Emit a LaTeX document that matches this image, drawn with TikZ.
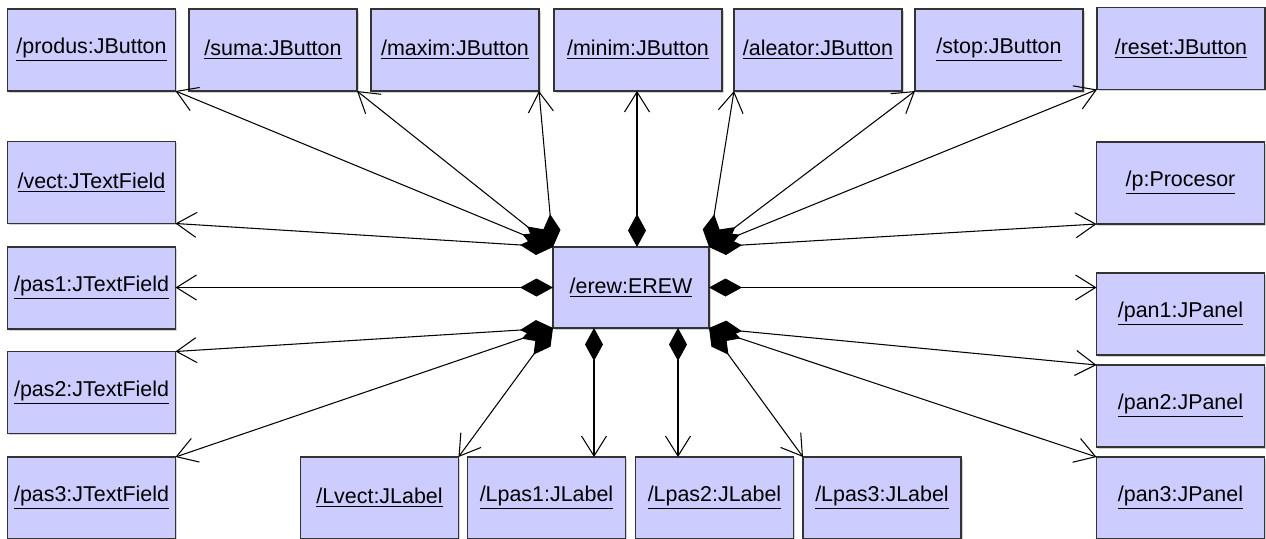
\documentclass[tikz,border=0pt]{standalone}
\usepackage{fontspec}
\setmainfont{Liberation Sans}
\usepackage{xcolor}
\usepackage{tikz}
\usetikzlibrary{arrows.meta,shadows}
\definecolor{objfill}{RGB}{204,204,255}

\begin{document}
\begin{tikzpicture}[font=\fontsize{12.2}{14}\selectfont,
  obj/.style={draw=black!80, line width=0.9pt, fill=objfill, inner sep=0pt, outer sep=0pt,
    minimum width=3.36cm, minimum height=1.64cm,
    drop shadow={shadow xshift=0.9pt, shadow yshift=-0.9pt, fill=black!35}},
  lbl/.style={obj, minimum width=3.16cm},
  assoc/.style={line width=0.6pt, {Diamond[length=6.6mm,width=3.6mm]}-{Straight Barb[length=4mm,width=5mm]}}]
\useasboundingbox (0,0) rectangle (25.32,-10.76);
% top row
\node[obj] (produs) at (1.83,-1.0) {\underline{/produs:JButton}};
\node[obj] (suma) at (5.46,-1.0) {\underline{/suma:JButton}};
\node[obj] (maxim) at (9.10,-1.0) {\underline{/maxim:JButton}};
\node[obj] (minim) at (12.76,-1.0) {\underline{/minim:JButton}};
\node[obj] (aleator) at (16.36,-1.0) {\underline{/aleator:JButton}};
\node[obj] (stop) at (19.98,-1.0) {\underline{/stop:JButton}};
\node[obj] (reset) at (23.62,-0.97) {\underline{/reset:JButton}};
% left column
\node[obj] (vect) at (1.83,-3.65) {\underline{/vect:JTextField}};
\node[obj] (pas1) at (1.83,-5.76) {\underline{/pas1:JTextField}};
\node[obj] (pas2) at (1.83,-7.85) {\underline{/pas2:JTextField}};
\node[obj] (pas3) at (1.83,-9.96) {\underline{/pas3:JTextField}};
% right column
\node[obj] (p) at (23.61,-3.66) {\underline{/p:Procesor}};
\node[obj] (pan1) at (23.61,-6.28) {\underline{/pan1:JPanel}};
\node[obj] (pan2) at (23.61,-8.12) {\underline{/pan2:JPanel}};
\node[obj] (pan3) at (23.61,-9.96) {\underline{/pan3:JPanel}};
% bottom row
\node[lbl] (Lvect) at (7.59,-9.96) {\underline{/Lvect:JLabel}};
\node[lbl] (Lpas1) at (10.93,-9.96) {\underline{/Lpas1:JLabel}};
\node[lbl] (Lpas2) at (14.29,-9.96) {\underline{/Lpas2:JLabel}};
\node[lbl] (Lpas3) at (17.64,-9.96) {\underline{/Lpas3:JLabel}};
% centre
\node[obj, minimum width=3.12cm, minimum height=1.62cm] (erew) at (12.62,-5.75) {\underline{/erew:EREW}};
% links
\foreach \b in {produs,suma,maxim,vect}{ \draw[assoc] (erew.north west) -- (\b.south east); }
\foreach \b in {aleator,stop,reset,p}{ \draw[assoc] (erew.north east) -- (\b.south west); }
\foreach \b in {pas2,pas3,Lvect}{ \draw[assoc] (erew.south west) -- (\b.north east); }
\foreach \b in {Lpas3,pan2,pan3}{ \draw[assoc] (erew.south east) -- (\b.north west); }
\draw[assoc] (erew.west) -- (erew.west -| pas1.east);
\draw[assoc] (erew.east) -- (erew.east -| pan1.west);
\draw[assoc] ([xshift=1.2mm]erew.north) -- ([xshift=1.2mm]erew.north |- minim.south);
\draw[assoc] ([xshift=-7.4mm]erew.south) -- ([xshift=-7.4mm]erew.south |- Lpas1.north);
\draw[assoc] ([xshift=9.4mm]erew.south) -- ([xshift=9.4mm]erew.south |- Lpas2.north);
\end{tikzpicture}
\end{document}
